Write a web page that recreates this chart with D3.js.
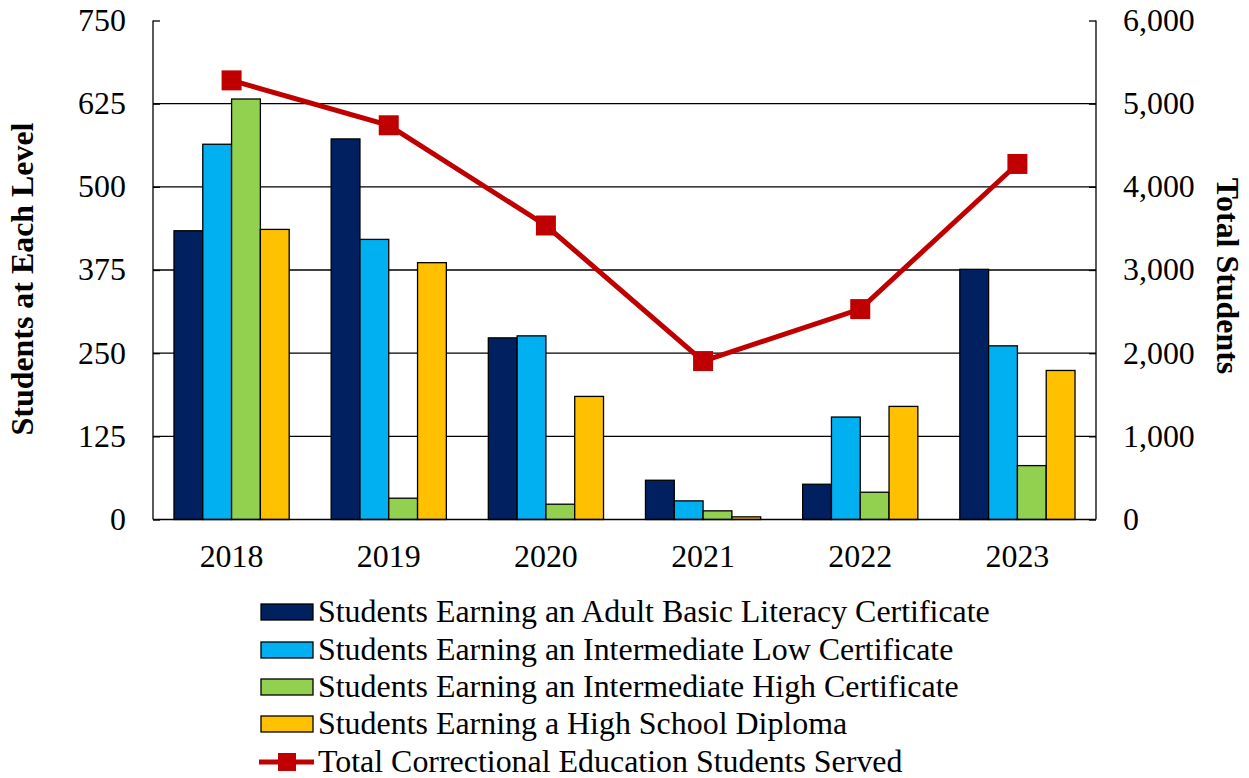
<!DOCTYPE html>
<html>
<head>
<meta charset="utf-8">
<script src="https://cdn.jsdelivr.net/npm/d3@7"></script>
<style>
  body { margin: 0; background: #fff; }
  text { font-family: "Liberation Serif", "Times New Roman", serif; fill: #000; }
</style>
</head>
<body>
<script>
// data
const years = ['2018', '2019', '2020', '2021', '2022', '2023'];
const seriesNames = [
  'Students Earning an Adult Basic Literacy Certificate',
  'Students Earning an Intermediate Low Certificate',
  'Students Earning an Intermediate High Certificate',
  'Students Earning a High School Diploma'
];
const basicLiteracy = [434, 572, 273, 59, 53, 376];
const intermediateLow = [564, 421, 276, 28, 154, 261];
const intermediateHigh = [632, 32, 23, 13, 41, 81];
const highSchool = [436, 386, 185, 4, 170, 224];
const totalName = 'Total Correctional Education Students Served';
const totalServed = [5280, 4740, 3535, 1905, 2530, 4275];
const leftTicks = [0, 125, 250, 375, 500, 625, 750];
const rightTicks = [0, 1000, 2000, 3000, 4000, 5000, 6000];
const colors = ['#002060', '#00B0F0', '#92D050', '#FFC000'];
const lineColor = '#C00000';

const W = 1249, H = 778;
const FS = 31;
const SX = 1.03; // slight horizontal stretch to match the reference widths

const svg = d3.select('body').append('svg')
  .attr('width', W)
  .attr('height', H);

// stretch text horizontally around its x anchor
function stretch(sel) {
  sel.each(function () {
    const t = d3.select(this);
    const x = +t.attr('x') || 0;
    t.attr('transform', `translate(${x},0) scale(${SX},1) translate(${-x},0)`);
  });
}

const x0 = d3.scaleBand()
  .domain(years)
  .range([153, 1096])
  .paddingInner(0.267)
  .paddingOuter(0.1335);

const x1 = d3.scaleBand()
  .domain(d3.range(4))
  .range([0, x0.bandwidth()]);

const yL = d3.scaleLinear().domain([0, 750]).range([519.5, 20.5]);
const yR = d3.scaleLinear().domain([0, 6000]).range([519.5, 20.5]);

// gridlines (not at the top)
svg.append('g')
  .selectAll('line')
  .data(leftTicks.filter(t => t > 0 && t < 750))
  .join('line')
  .attr('x1', 153).attr('x2', 1096)
  .attr('y1', d => yL(d)).attr('y2', d => yL(d))
  .attr('stroke', '#000').attr('stroke-width', 1.3);

// bars
const allSeries = [basicLiteracy, intermediateLow, intermediateHigh, highSchool];
const groups = svg.append('g')
  .selectAll('g')
  .data(years)
  .join('g')
  .attr('transform', d => `translate(${x0(d)},0)`);

groups.selectAll('rect')
  .data((d, i) => allSeries.map((s, k) => ({ k, v: s[i] })))
  .join('rect')
  .attr('x', d => x1(d.k))
  .attr('width', x1.bandwidth())
  .attr('y', d => yL(d.v))
  .attr('height', d => yL(0) - yL(d.v))
  .attr('fill', d => colors[d.k])
  .attr('stroke', '#000')
  .attr('stroke-width', 1.3);

// axes
const leftAxis = d3.axisLeft(yL).tickValues(leftTicks).tickSizeInner(-7).tickSizeOuter(0).tickPadding(27);
const rightAxis = d3.axisRight(yR).tickValues(rightTicks).tickSizeInner(-7).tickSizeOuter(0)
  .tickPadding(27).tickFormat(d3.format(','));

const gl = svg.append('g').attr('transform', 'translate(153,0)').call(leftAxis);
const gr = svg.append('g').attr('transform', 'translate(1096,0)').call(rightAxis);
[gl, gr].forEach(g => {
  g.select('.domain').remove();
  g.selectAll('line').attr('stroke', '#000').attr('stroke-width', 1.3);
  g.selectAll('text').attr('font-size', FS).attr('font-family', 'Liberation Serif').call(stretch);
});

// axis lines
svg.append('line')
  .attr('x1', 153).attr('x2', 153).attr('y1', yL(750)).attr('y2', yL(0))
  .attr('stroke', '#000').attr('stroke-width', 1.3);
svg.append('line')
  .attr('x1', 1096).attr('x2', 1096).attr('y1', yL(750)).attr('y2', yL(0))
  .attr('stroke', '#000').attr('stroke-width', 1.3);
svg.append('line')
  .attr('x1', 153).attr('x2', 1096)
  .attr('y1', yL(0)).attr('y2', yL(0))
  .attr('stroke', '#000').attr('stroke-width', 1.3);

// category labels
svg.append('g')
  .selectAll('text')
  .data(years)
  .join('text')
  .attr('x', d => x0(d) + x0.bandwidth() / 2)
  .attr('y', 567)
  .attr('text-anchor', 'middle')
  .attr('font-size', FS)
  .text(d => d)
  .call(stretch);

// total line
const line = d3.line()
  .x((d, i) => x0(years[i]) + x0.bandwidth() / 2)
  .y(d => yR(d));

svg.append('path')
  .datum(totalServed)
  .attr('d', line)
  .attr('fill', 'none')
  .attr('stroke', lineColor)
  .attr('stroke-width', 5);

svg.append('g')
  .selectAll('rect')
  .data(totalServed)
  .join('rect')
  .attr('x', (d, i) => x0(years[i]) + x0.bandwidth() / 2 - 10)
  .attr('y', d => yR(d) - 10)
  .attr('width', 20)
  .attr('height', 20)
  .attr('fill', lineColor);

// axis titles
svg.append('text')
  .attr('transform', `translate(33,279) rotate(-90) scale(${SX},1)`)
  .attr('text-anchor', 'middle')
  .attr('font-size', FS)
  .attr('font-weight', 'bold')
  .text('Students at Each Level');

svg.append('text')
  .attr('transform', `translate(1217,276) rotate(90) scale(${SX},1)`)
  .attr('text-anchor', 'middle')
  .attr('font-size', FS)
  .attr('font-weight', 'bold')
  .text('Total Students');

// legend
const legend = svg.append('g');
const rowY = [612, 650, 687, 724, 762];

seriesNames.forEach((name, i) => {
  legend.append('rect')
    .attr('x', 261).attr('y', rowY[i] - 8)
    .attr('width', 52).attr('height', 16)
    .attr('fill', colors[i])
    .attr('stroke', '#000').attr('stroke-width', 1.3);
  legend.append('text')
    .attr('x', 318).attr('y', rowY[i] + 10)
    .attr('font-size', FS)
    .text(name)
    .call(stretch);
});

legend.append('line')
  .attr('x1', 259).attr('x2', 314)
  .attr('y1', rowY[4]).attr('y2', rowY[4])
  .attr('stroke', lineColor).attr('stroke-width', 5);
legend.append('rect')
  .attr('x', 278).attr('y', rowY[4] - 9)
  .attr('width', 18).attr('height', 18)
  .attr('fill', lineColor);
legend.append('text')
  .attr('x', 318).attr('y', rowY[4] + 10)
  .attr('font-size', FS)
  .text(totalName)
  .call(stretch);
</script>
</body>
</html>
